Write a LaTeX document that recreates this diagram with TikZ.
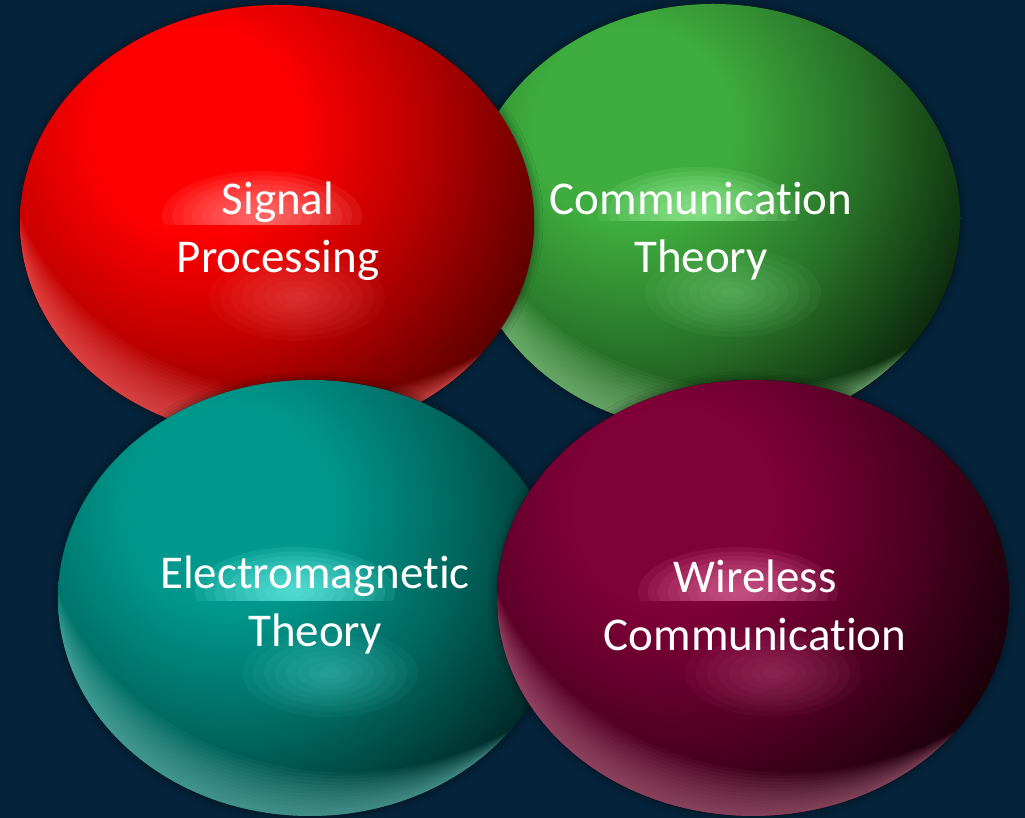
\documentclass[tikz,border=0pt]{standalone}
\usepackage{fontspec}
\setmainfont{Carlito}[Ligatures=NoCommon]
\usetikzlibrary{shadows.blur}

\definecolor{bgnavy}{RGB}{5,36,60}
\definecolor{redmain}{RGB}{255,0,0}
\definecolor{reddark}{RGB}{95,0,0}
\definecolor{redglow}{RGB}{255,140,140}
\definecolor{redrim}{RGB}{255,110,110}
\definecolor{greenmain}{RGB}{62,172,62}
\definecolor{greendark}{RGB}{12,40,12}
\definecolor{greenglow}{RGB}{160,245,160}
\definecolor{greenrim}{RGB}{150,215,150}
\definecolor{tealmain}{RGB}{0,152,140}
\definecolor{tealdark}{RGB}{0,42,40}
\definecolor{tealglow}{RGB}{110,245,235}
\definecolor{tealrim}{RGB}{110,195,188}
\definecolor{maroonmain}{RGB}{128,0,56}
\definecolor{maroondark}{RGB}{26,0,9}
\definecolor{maroonglow}{RGB}{225,110,160}
\definecolor{maroonrim}{RGB}{190,110,140}

% base shading of a ball: bright top left, dark right and below (25bp = edge of the shaded path)
\newcommand{\baseshading}[1]{\pgfdeclareradialshading{#1base}{\pgfpointorigin}{color(0bp)=(#1main); color(7bp)=(#1main); color(16bp)=(#1main!55!#1dark); color(25bp)=(#1dark); color(50bp)=(#1dark)}}
\baseshading{red}
\baseshading{green}
\baseshading{teal}
\baseshading{maroon}

\tikzset{
  balltext/.style={text=white, font=\fontsize{47}{58}\selectfont, align=center, inner sep=0pt},
  ballshadow/.style={blur shadow={shadow xshift=0pt, shadow yshift=0pt, shadow blur radius=9pt, shadow opacity=55}}
}

% #1,#2 centre, #3,#4 radii, #5 colour prefix
\newcommand{\glassball}[5]{%
  \fill[#5dark, ballshadow] (#1,#2) ellipse ({#3} and {#4});
  \begin{scope}
    \clip (#1,#2) ellipse ({#3} and {#4});
    \shade[shading=#5base] ({#1-80},{#2+90}) circle (360);
    % rim light, lower left
    \foreach \rs in {1,...,14}
      \fill[#5rim, opacity=0.065, even odd rule] ({#1-#3},{#2-#4}) rectangle ({#1+#3},{#2+#4})
        ({#1+2.6*\rs},{#2+7*\rs}) ellipse ({#3+3.9*\rs} and {#4+3.9*\rs});
    % glow above the line gap
    \begin{scope}
      \clip ({#1-200},{#2-3}) rectangle ({#1+120},{#2+150});
      \foreach \k in {1,...,10}
        \fill[#5glow, opacity=0.12] ({#1-15},{#2+6}) ellipse ({10*\k} and {4.5*\k});
    \end{scope}
    \foreach \k in {1,...,8}
      \fill[#5glow, opacity=0.05] ({#1+20},{#2-75}) ellipse ({11*\k} and {5.5*\k});
  \end{scope}
}

\begin{document}
\begin{tikzpicture}[x=1pt,y=1pt]
			%%%%% START %%%%%
			
			\fill[bgnavy] (0,0) rectangle (1025,818);
			\useasboundingbox (0,0) rectangle (1025,818);
			
			\glassball{713}{600}{247}{214}{green}
			\glassball{277}{596}{257}{217}{red}
			\glassball{310}{220}{252}{218}{teal}
			\glassball{753}{220}{256}{218}{maroon}
			
			\node[balltext] (signal) at (278, 587) {Signal\\Processing};
			\node[balltext] (commtheory) at (701, 587) {Communication\\Theory};
			\node[balltext] (emtheory) at (315, 213) {Electromagnetic\\Theory};
			\node[balltext] (wireless) at (755, 213) {Wireless\\Communication};
			
			%%%%% END %%%%%
\end{tikzpicture}
\end{document}
